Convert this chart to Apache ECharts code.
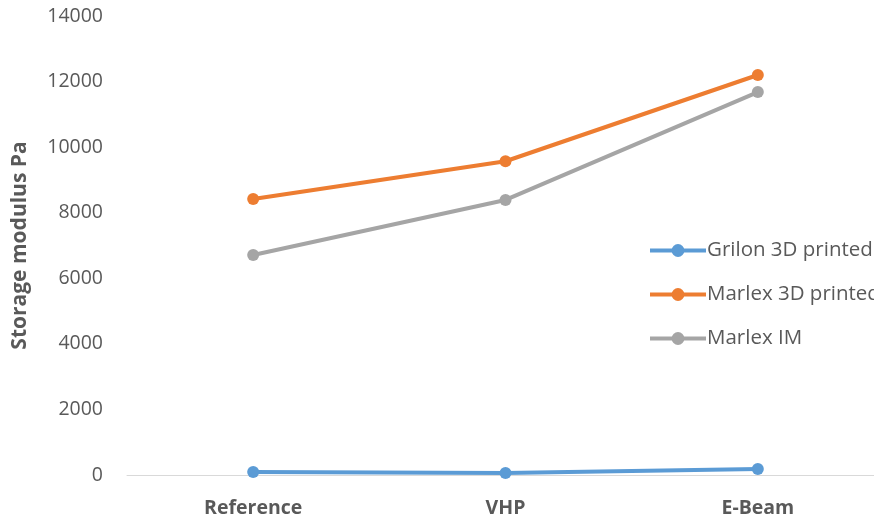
<!DOCTYPE html>
<html>
<head>
<meta charset="utf-8">
<script src="https://cdn.jsdelivr.net/npm/echarts@6/dist/echarts.min.js"></script>
<style>
  html, body { margin: 0; padding: 0; background: #fff; overflow: hidden; }
  /* the plot area runs a little past the right edge of the window */
  #chart { width: 884px; height: 519px; }
</style>
</head>
<body>
<div id="chart"></div>
<script>
// Storage modulus by treatment for three materials
const categories = ['Reference', 'VHP', 'E-Beam'];
const grilon3D = [90, 60, 185];
const marlex3D = [8420, 9570, 12200];
const marlexIM = [6710, 8390, 11680];
const yTicks = { min: 0, max: 14000, interval: 2000 };

const FONT = '"Open Sans", "Liberation Sans", sans-serif';
const TXT = '#595959';

function lineSeries(name, data, color) {
  return {
    name: name,
    type: 'line',
    data: data,
    symbol: 'circle',
    symbolSize: 12,
    lineStyle: { width: 4, color: color },
    itemStyle: { color: color },
    emphasis: { disabled: true }
  };
}

const chart = echarts.init(document.getElementById('chart'), null, { renderer: 'canvas' });
chart.setOption({
  animation: false,
  backgroundColor: '#ffffff',
  grid: { left: 127, top: 16, right: 0, bottom: 44, containLabel: false },
  xAxis: {
    type: 'category',
    data: categories,
    boundaryGap: true,
    axisLine: { lineStyle: { color: '#d9d9d9', width: 1 } },
    axisTick: { show: false },
    axisLabel: { color: TXT, fontFamily: FONT, fontSize: 19.5, fontWeight: 'bold', margin: 23 }
  },
  yAxis: {
    type: 'value',
    min: yTicks.min,
    max: yTicks.max,
    interval: yTicks.interval,
    name: 'Storage modulus Pa',
    nameLocation: 'middle',
    nameGap: 96,
    nameRotate: 90,
    nameTextStyle: { color: TXT, fontFamily: FONT, fontSize: 21, fontWeight: 'bold' },
    axisLine: { show: false },
    axisTick: { show: false },
    splitLine: { show: false },
    axisLabel: {
      color: TXT, fontFamily: FONT, fontSize: 19.5, margin: 24,
      formatter: function (v) { return String(v); }
    }
  },
  legend: {
    orient: 'vertical',
    left: 643,
    top: 235,
    itemWidth: 56,
    itemHeight: 16,
    itemGap: 23,
    lineStyle: { width: 4 },
    textStyle: { color: TXT, fontFamily: FONT, fontSize: 20.5, padding: [0, 0, 0, -4] },
    data: ['Grilon 3D printed', 'Marlex 3D printed', 'Marlex IM']
  },
  series: [
    lineSeries('Grilon 3D printed', grilon3D, '#5B9BD5'),
    lineSeries('Marlex 3D printed', marlex3D, '#ED7D31'),
    lineSeries('Marlex IM', marlexIM, '#A5A5A5')
  ]
});
</script>
</body>
</html>
